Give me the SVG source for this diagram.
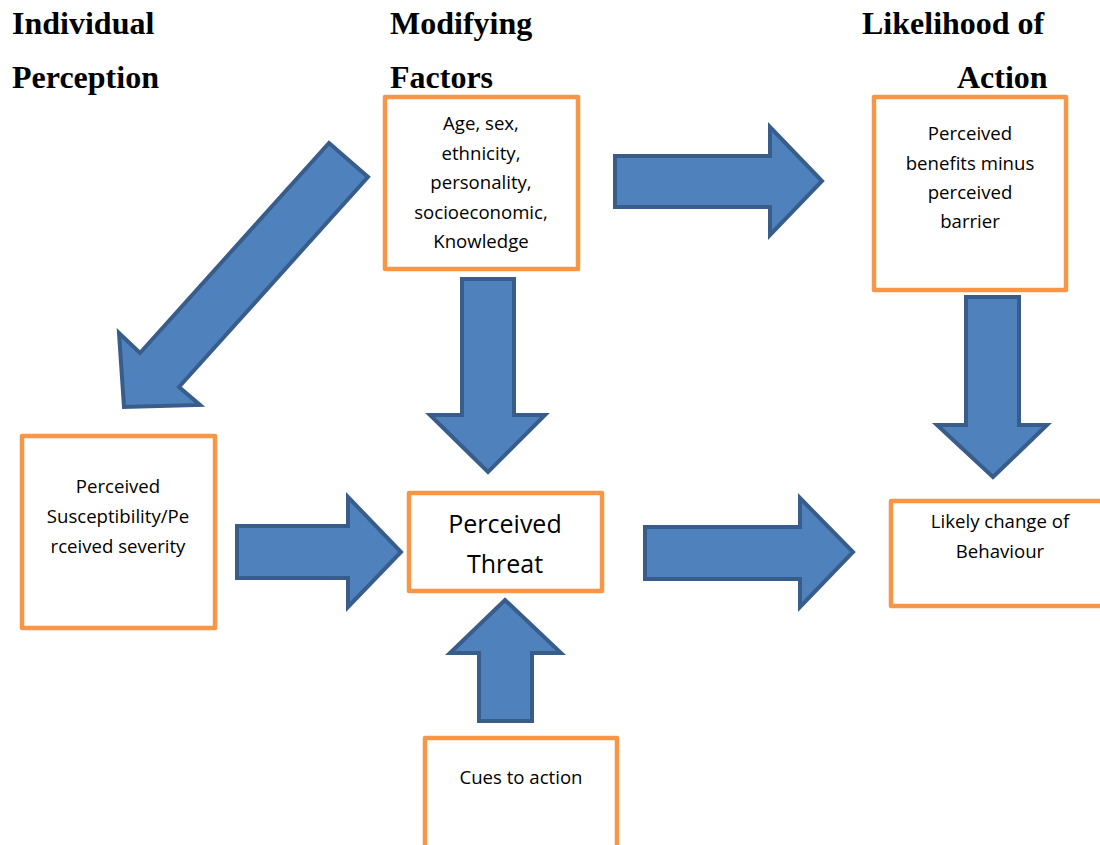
<svg xmlns="http://www.w3.org/2000/svg" width="1100" height="845" viewBox="0 0 1100 845">
<style>
.box{fill:#fff;stroke:#F79646;stroke-width:4.5;stroke-linejoin:round}
.arr{fill:#4F81BD;stroke:#385D8A;stroke-width:4;stroke-linejoin:miter}
.hd{font-family:"Liberation Serif","Times New Roman",serif;font-weight:bold;font-size:32px;fill:#000}
.t{font-family:"Open Sans","Liberation Sans",sans-serif;font-size:18.6px;fill:#000;text-anchor:middle}
.tl{font-family:"Open Sans","Liberation Sans",sans-serif;font-size:25px;fill:#000;text-anchor:middle}
</style>
<rect width="1100" height="845" fill="#fff"/>
<g id="headers">
<text class="hd" x="12" y="34">Individual</text>
<text class="hd" x="12" y="88">Perception</text>
<text class="hd" x="390" y="34">Modifying</text>
<text class="hd" x="390" y="88">Factors</text>
<text class="hd" x="862" y="34">Likelihood of</text>
<text class="hd" x="957" y="88">Action</text>
</g>
<g id="connectors">
<polygon class="arr" points="615,156 770,156 770,127 822,181 770,235 770,207 615,207"/>
<polygon class="arr" points="462,279 514,279 514,415 545,415 488,472 430,415 462,415"/>
<polygon class="arr" points="329,143 368,177 179,387 200,405 124,407 119,333 140,353"/>
<polygon class="arr" points="237,526 348,526 348,497 401,552 348,607 348,578 237,578"/>
<polygon class="arr" points="645,527 800,527 800,498 853,552 800,607 800,579 645,579"/>
<polygon class="arr" points="966,297 1019,297 1019,425 1047,425 993,477 937,425 966,425"/>
<polygon class="arr" points="479,721 532,721 532,653 561,653 505,600 450,653 479,653"/>
</g>
<g id="modifying">
<rect class="box" x="385" y="97" width="193" height="172"/>
<text class="t" x="481" y="130">Age, sex,</text>
<text class="t" x="481" y="159.5">ethnicity,</text>
<text class="t" x="481" y="189">personality,</text>
<text class="t" x="481" y="218.5">socioeconomic,</text>
<text class="t" x="481" y="248">Knowledge</text>
</g>
<g id="benefits">
<rect class="box" x="874" y="97" width="192" height="193"/>
<text class="t" x="970" y="140">Perceived</text>
<text class="t" x="970" y="170">benefits minus</text>
<text class="t" x="970" y="199">perceived</text>
<text class="t" x="970" y="228">barrier</text>
</g>
<g id="susceptibility">
<rect class="box" x="22" y="436" width="193" height="192"/>
<text class="t" x="118" y="493">Perceived</text>
<text class="t" x="118" y="523">Susceptibility/Pe</text>
<text class="t" x="118" y="553">rceived severity</text>
</g>
<g id="threat">
<rect class="box" x="409" y="493" width="193" height="98"/>
<text class="tl" x="505" y="533">Perceived</text>
<text class="tl" x="505" y="573">Threat</text>
</g>
<g id="likely">
<rect class="box" x="891" y="501" width="215" height="105"/>
<text class="t" x="1000" y="528">Likely change of</text>
<text class="t" x="1000" y="558">Behaviour</text>
</g>
<g id="cues">
<rect class="box" x="425" y="738" width="192" height="120"/>
<text class="t" x="521" y="784">Cues to action</text>
</g>
</svg>
